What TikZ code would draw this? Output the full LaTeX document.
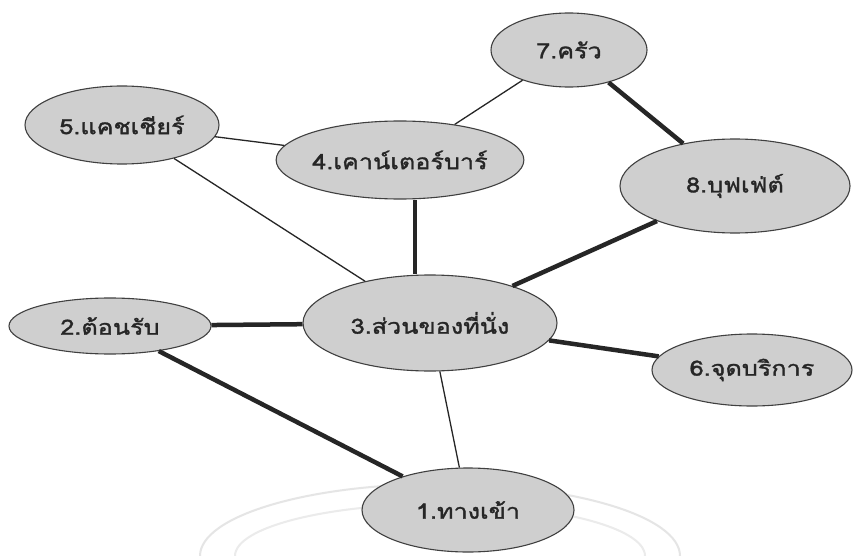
\documentclass[tikz,border=0pt]{standalone}
\usepackage{fontspec}
\newfontfamily\thaifont[Script=Thai,FakeStretch=1.2,FakeBold=1.5]{Loma}
\usetikzlibrary{shapes.geometric}
\begin{document}
\begin{tikzpicture}[x=1pt,y=-1pt,
  room/.style={ellipse,draw=black!75,line width=1.1pt,fill=black!19,inner sep=0pt,
    font=\thaifont\fontsize{21}{24}\selectfont,text=black!85},
  thinlink/.style={draw=black!85,line width=1.3pt},
  thicklink/.style={draw=black!85,line width=4.5pt}]
\useasboundingbox (0,0) rectangle (856,556);
\fill[white] (0,0) rectangle (856,556);
% faint watermark arcs
\draw[black!10,line width=2pt] (200,556) arc[start angle=180,end angle=0,x radius=240,y radius=-72];
\draw[black!8,line width=2pt] (235,556) arc[start angle=180,end angle=0,x radius=205,y radius=-52];
% nodes
\node[room,minimum width=156pt,minimum height=74pt] (n7) at (569,50) {7.ครัว};
\node[room,minimum width=194pt,minimum height=78pt] (n5) at (122,125) {5.แคชเชียร์};
\node[room,minimum width=200pt,minimum height=78pt] (n4) at (400,160) {4.เคาน์เตอร์บาร์};
\node[room,minimum width=230pt,minimum height=94pt] (n8) at (735,186) {8.บุฟเฟ่ต์};
\node[room,minimum width=202pt,minimum height=56pt] (n2) at (110,326) {2.ต้อนรับ};
\node[room,minimum width=254pt,minimum height=96pt] (n3) at (430,323) {3.ส่วนของที่นั่ง};
\node[room,minimum width=200pt,minimum height=72pt] (n6) at (752,370) {6.จุดบริการ};
\node[room,minimum width=212pt,minimum height=84pt] (n1) at (468,510) {1.ทางเข้า};
\coordinate (m43) at (415,240);
% connectors
\draw[thinlink] (n5) -- (n4);
\draw[thinlink] (n5) -- (n3);
\draw[thinlink] (n4) -- (n7);
\draw[thicklink] (n4.south -| m43) -- (n3.north -| m43);
\draw[thicklink] (n7) -- (n8);
\draw[thicklink] (n8) -- (n3);
\draw[thicklink] (n2) -- (n3);
\draw[thicklink] (n3) -- (n6);
\draw[thinlink] (n3) -- (n1);
\draw[thicklink] (n2) -- (n1);
\end{tikzpicture}
\end{document}
